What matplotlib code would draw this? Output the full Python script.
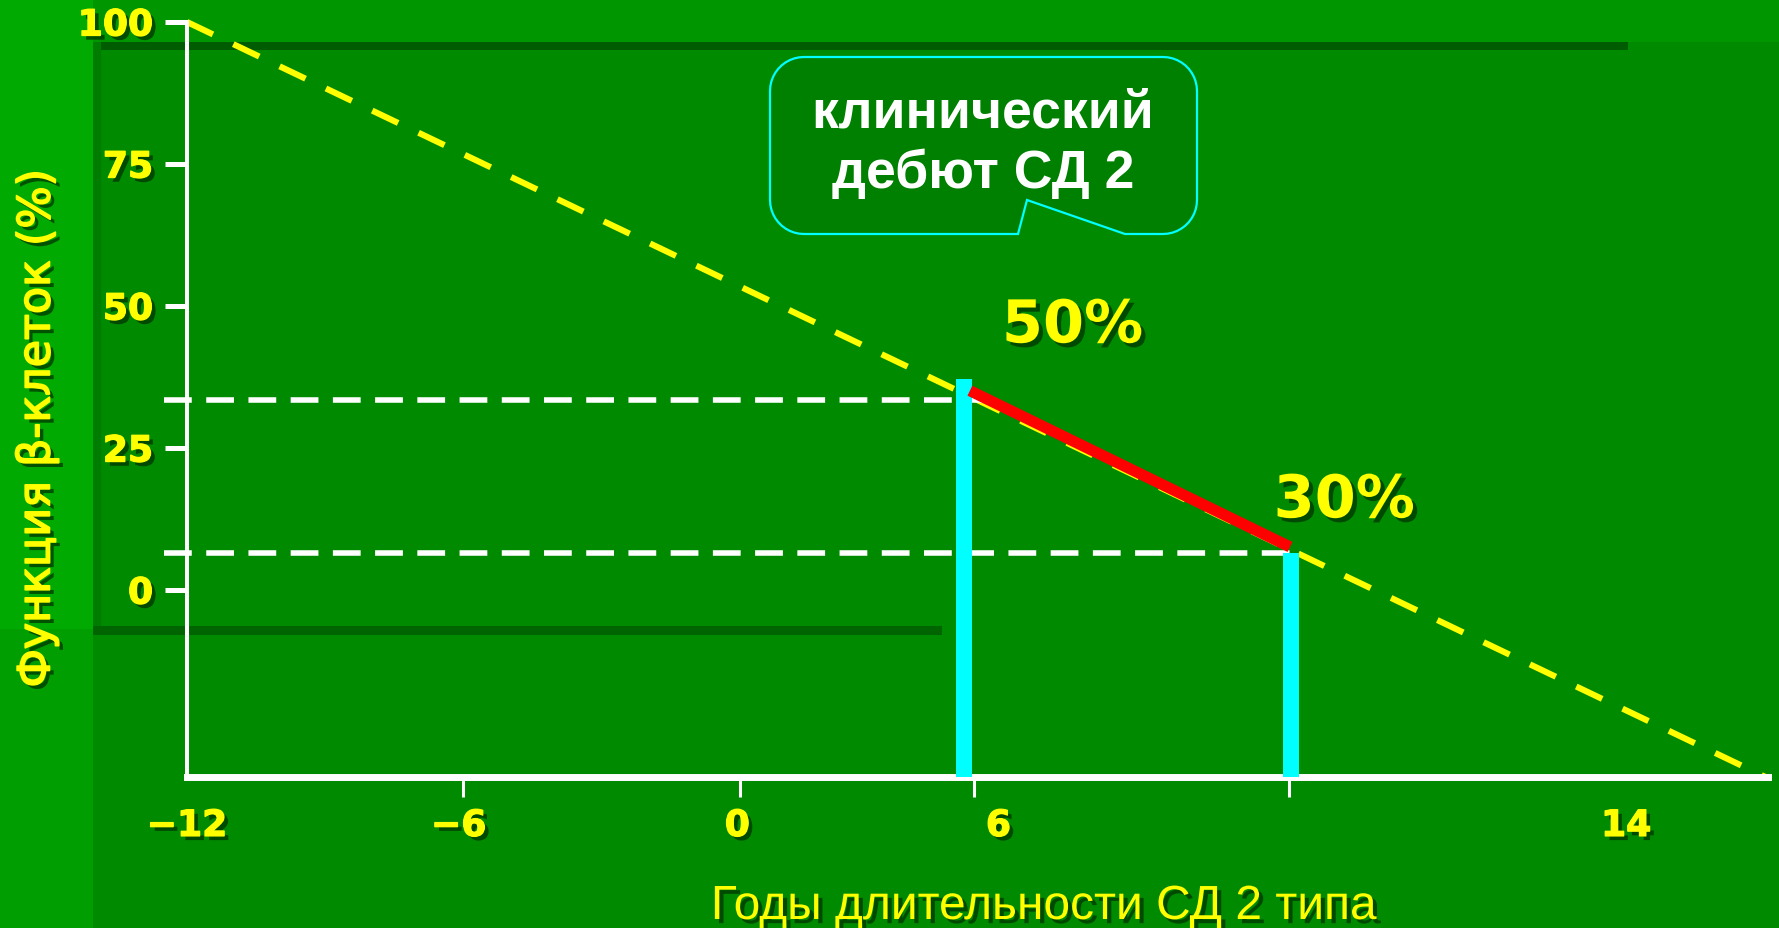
import numpy as np
import matplotlib
matplotlib.use("Agg")
import matplotlib.pyplot as plt
import matplotlib.patheffects as pe
from matplotlib.patches import Rectangle, Polygon
from matplotlib.transforms import IdentityTransform

W, H = 1779, 929

# values
decline_x = [-12, 22.3]        # yellow dashed decline of beta-cell function
decline_y = [100, -33]
onset_x = [5.0, 11.95]         # red segment after clinical onset
onset_y = [35.1, 7.6]
level_y = [33.5, 6.6]          # white dashed guide levels
level_end_x = [5.7, 12.0]
bar_x = [4.88, 11.98]          # cyan markers
bar_top = [37.1, 6.6]
pct_labels = ["50%", "30%"]
pct_x = [7.23, 13.13]
pct_y = [43.6, 12.8]
ytick_vals = [0, 25, 50, 75, 100]
xtick_pos = [-12, -6.1, -0.05, 5.62, 19.25]
xtick_txt = ["\u221212", "\u22126", "0", "6", "14"]
xmark_pos = [-6, 0, 5.08, 11.93]

YEL = "#FFFF00"
shadow = [pe.withSimplePatchShadow(offset=(3, -3), shadow_rgbFace="#003300", alpha=0.75)]


def heavy(lw):
    # shadow plus a thin outline in the text colour to fatten the strokes
    return [pe.withSimplePatchShadow(offset=(3, -3), shadow_rgbFace="#003300", alpha=0.75),
            pe.withStroke(linewidth=lw, foreground=YEL)]


fig = plt.figure(figsize=(W / 100, H / 100), dpi=100)
fig.patch.set_facecolor("#008A00")


def px_rect(x0, y0, x1, y1, color):
    # rectangle given in pixels from the top-left corner
    fig.add_artist(Rectangle((x0 / W, 1 - y1 / H), (x1 - x0) / W, (y1 - y0) / H,
                             transform=fig.transFigure, color=color, lw=0, zorder=-5))


# slide background decoration
px_rect(0, 0, W, 43, "#009600")
px_rect(0, 0, 93, 630, "#00AA00")
px_rect(0, 630, 93, H, "#009E00")
px_rect(93, 43, 1628, 51, "#005C00")
px_rect(93, 43, 101, 630, "#007C00")
px_rect(93, 627, 942, 636, "#006400")

ax = fig.add_axes([187 / W, 1 - 778 / H, (1768 - 187) / W, (778 - 23) / H])
ax.set_facecolor("none")
ax.set_xlim(-12, 22.33)
ax.set_ylim(-32.9, 100)

for s in ["top", "right"]:
    ax.spines[s].set_visible(False)
ax.spines["left"].set_color("white")
ax.spines["left"].set_linewidth(2.9)
ax.spines["bottom"].set_color("white")
ax.spines["bottom"].set_linewidth(5)

ax.plot(decline_x, decline_y, color=YEL, lw=4.4, dashes=(4.7, 3.7),
        dash_capstyle="butt", clip_on=False, zorder=2)
for y, xe in zip(level_y, level_end_x):
    ax.plot([-12.5, xe], [y, y], color="white", lw=4, dashes=(5.0, 2.6),
            dash_capstyle="butt", clip_on=False, zorder=2)
ax.vlines(bar_x, -32.9, bar_top, color="#00FFFF", lw=11.5, zorder=3)
ax.plot(onset_x, onset_y, color="#FF0000", lw=8, solid_capstyle="butt", zorder=4)

for s, x, y in zip(pct_labels, pct_x, pct_y):
    ax.text(x, y, s, color=YEL, fontsize=42.5, fontweight="bold", ha="center",
            va="baseline", path_effects=shadow, zorder=5)

ax.set_yticks(ytick_vals)
ax.tick_params(axis="y", colors="white", labelcolor=YEL, length=15.8, width=3.6,
               pad=8.6, labelsize=26)
ax.set_xticks(xtick_pos, xtick_txt)
ax.set_xticks(xmark_pos, minor=True)
ax.tick_params(axis="x", which="major", length=0, pad=23, labelsize=26, labelcolor=YEL)
ax.tick_params(axis="x", which="minor", length=14.4, width=2.2, color="white")
for lbl in ax.get_xticklabels() + ax.get_yticklabels():
    lbl.set_fontweight("bold")
    lbl.set_path_effects(heavy(0.9))

fig.text(37 / W, 1 - 429 / H, "Функция β-клеток (%)", rotation=90, ha="center",
         va="center", fontsize=32, color=YEL, path_effects=heavy(1.2))
fig.text(1044 / W, 1 - 920 / H, "Годы длительности СД 2 типа", ha="center",
         va="baseline", fontsize=34.5, color=YEL, family="Liberation Sans",
         path_effects=shadow)

# callout box with the inward notch, pixel geometry (y up)
bx0, bx1, by0, by1, r = 770, 1197, H - 235, H - 58, 34


def arc(cx, cy, a0, a1):
    t = np.radians(np.linspace(a0, a1, 12))
    return list(zip(cx + r * np.cos(t), cy + r * np.sin(t)))


pts = [(bx0 + r, by0), (1018, by0), (1027, H - 201), (1125, by0), (bx1 - r, by0)]
pts += arc(bx1 - r, by0 + r, -90, 0)
pts += arc(bx1 - r, by1 - r, 0, 90)
pts += arc(bx0 + r, by1 - r, 90, 180)
pts += arc(bx0 + r, by0 + r, 180, 270)
fig.add_artist(Polygon(pts, closed=True, transform=IdentityTransform(),
                       fc="#008000", ec="#00FFFF", lw=1.6, zorder=6))
fig.text(983 / W, 1 - 127 / H, "клинический", ha="center", va="baseline",
         fontsize=38.5, fontweight="bold", color="white", family="Liberation Sans", zorder=7)
fig.text(983 / W, 1 - 188 / H, "дебют СД 2", ha="center", va="baseline",
         fontsize=38.5, fontweight="bold", color="white", family="Liberation Sans", zorder=7)

fig.savefig("out.png", dpi=100, facecolor=fig.get_facecolor())
